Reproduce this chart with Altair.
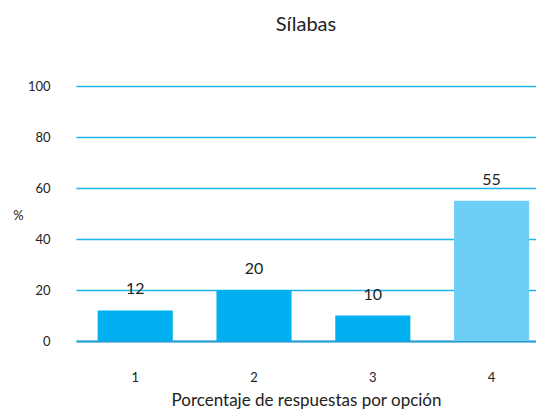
import altair as alt
import pandas as pd

categories = ["1", "2", "3", "4"]
values = [12, 20, 10, 55]
bar_colors = ["#00B0F0", "#00B0F0", "#00B0F0", "#6DCFF6"]

df = pd.DataFrame({"cat": categories, "val": values, "color": bar_colors})

FONT = "Lato"

x_enc = alt.X(
    "cat:N",
    sort=categories,
    scale=alt.Scale(paddingInner=0.368, paddingOuter=0.12, align=0.76),
    axis=alt.Axis(
        title="Porcentaje de respuestas por opción",
        labelAngle=0,
        labelPadding=30,
        labelFontSize=13,
        labelFont=FONT,
        labelColor="#222",
        ticks=False,
        domain=True,
        domainColor="#2E9BD0",
        domainWidth=2,
        titleFont=FONT,
        titleFontSize=17,
        titleFontWeight="normal",
        titleColor="#222",
        titlePadding=8,
    ),
)

y_enc = alt.Y(
    "val:Q",
    scale=alt.Scale(domain=[0, 100]),
    axis=alt.Axis(
        values=[0, 20, 40, 60, 80, 100],
        title="%",
        titleAngle=0,
        titleX=-58,
        titleY=129,
        titleAlign="center",
        titleBaseline="middle",
        titleFont=FONT,
        titleFontSize=13,
        titleFontWeight="normal",
        titleColor="#222",
        labelFont=FONT,
        labelFontSize=13,
        labelColor="#222",
        labelPadding=26,
        ticks=False,
        domain=False,
        grid=True,
        gridColor="#1FB4EC",
        gridWidth=1.5,
    ),
)

bars = alt.Chart(df).mark_bar().encode(
    x=x_enc,
    y=y_enc,
    color=alt.Color("color:N", scale=None),
)

labels = alt.Chart(df).mark_text(
    dy=-13, fontSize=16, font=FONT, color="#222", baseline="bottom"
).encode(
    x=alt.X("cat:N", sort=categories),
    y=alt.Y("val:Q"),
    text=alt.Text("val:Q"),
)

chart = (
    alt.layer(bars, labels)
    .properties(
        width=460,
        height=255,
        autosize=alt.AutoSizeParams(type="none"),
        padding={"left": 68, "top": 78, "right": 0, "bottom": 68},
        title=alt.TitleParams(
            "Sílabas",
            font=FONT,
            fontSize=20,
            fontWeight="normal",
            color="#222",
            anchor="middle",
            offset=45,
        ),
    )
    .configure_view(stroke=None)
)

chart.save("out.html", embed_options={"renderer": "svg", "actions": False})
